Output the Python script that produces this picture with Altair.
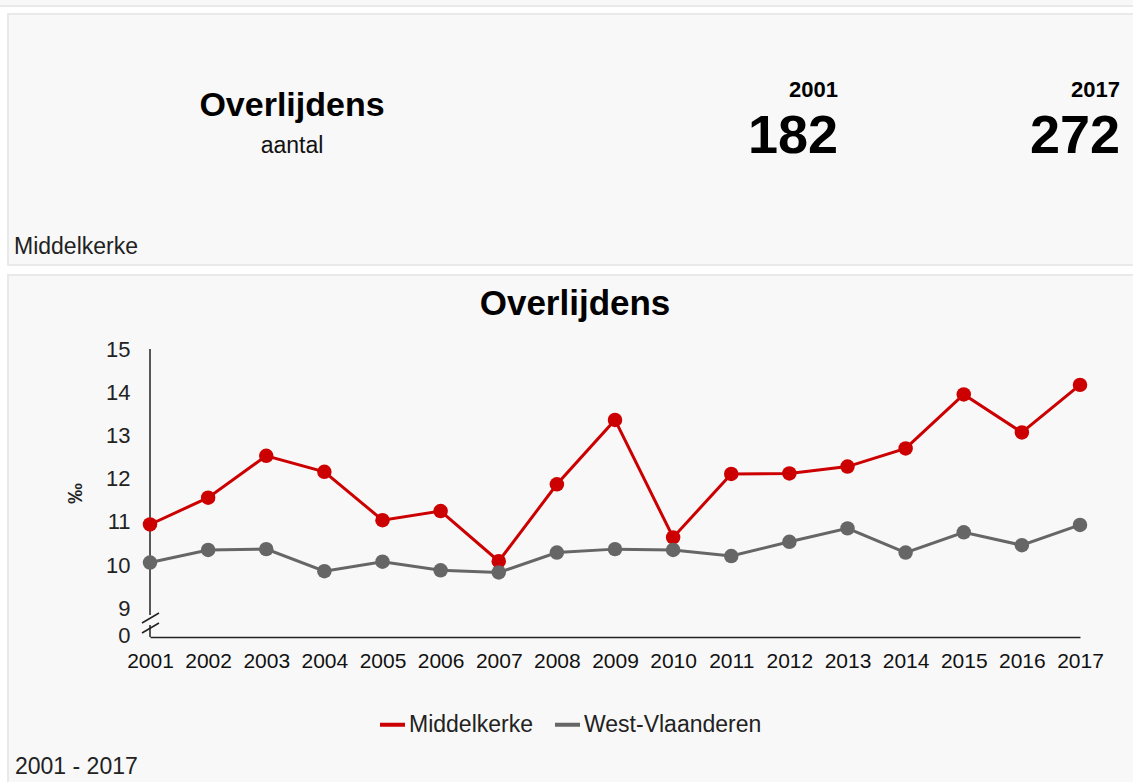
import altair as alt
import pandas as pd

# ---------------- data ----------------
years = list(range(2001, 2018))
middelkerke = [10.94, 11.56, 12.53, 12.16, 11.04, 11.25, 10.09, 11.87, 13.36,
               10.64, 12.11, 12.12, 12.28, 12.70, 13.95, 13.07, 14.17]
west_vlaanderen = [10.06, 10.35, 10.37, 9.86, 10.08, 9.88, 9.83, 10.29, 10.37,
                   10.35, 10.21, 10.54, 10.85, 10.29, 10.76, 10.46, 10.93]
series_names = ["Middelkerke", "West-Vlaanderen"]
series_colors = ["#cc0000", "#666666"]
y_tick_values = [8.38, 9, 10, 11, 12, 13, 14, 15]

kpi_title = "Overlijdens"
kpi_unit = "aantal"
kpi_years = ["2001", "2017"]
kpi_values = ["182", "272"]
region_name = "Middelkerke"
chart_title = "Overlijdens"
y_title = "‰"
period_text = "2001 - 2017"

# ---------------- layout ----------------
FONT = "Liberation Sans"
OX, OY = 150, 349          # page position of the plot origin
PW, PH = 930, 288          # plot area
PANEL_FILL = "#f8f8f8"
PANEL_STROKE = "#e9e9e9"

rows = []
for name, vals in zip(series_names, [middelkerke, west_vlaanderen]):
    for yr, v in zip(years, vals):
        rows.append({"year": yr, "value": v, "reeks": name})
df = pd.DataFrame(rows)
one = pd.DataFrame({"k": [0]})


def panel(x1, y1, x2, y2):
    return alt.Chart(one).mark_rect(fill=PANEL_FILL, stroke=PANEL_STROKE, strokeWidth=2).encode(
        x=alt.value(x1 - OX), x2=alt.value(x2 - OX),
        y=alt.value(y1 - OY), y2=alt.value(y2 - OY))


def text(t, x, y, size, weight="normal", align="left", color="#111111"):
    return alt.Chart(one).mark_text(
        text=t, font=FONT, fontSize=size, fontWeight=weight, align=align,
        baseline="middle", color=color).encode(x=alt.value(x - OX), y=alt.value(y - OY))


def seg(x1, y1, x2, y2):
    return alt.Chart(one).mark_rule(color="#222222", strokeWidth=1.5).encode(
        x=alt.value(x1 - OX), y=alt.value(y1 - OY),
        x2=alt.value(x2 - OX), y2=alt.value(y2 - OY))


panels = [
    panel(-20, -20, 1150, 6),
    panel(8, 14, 1150, 265),
    panel(8, 275, 1150, 800),
]

texts = [
    text(kpi_title, 292, 106, 34, "bold", "center", "#000000"),
    text(kpi_unit, 292, 146, 23, "normal", "center"),
    text(kpi_years[0], 838, 90, 22, "bold", "right", "#000000"),
    text(kpi_values[0], 838, 137, 54, "bold", "right", "#000000"),
    text(kpi_years[1], 1120, 90, 22, "bold", "right", "#000000"),
    text(kpi_values[1], 1120, 137, 54, "bold", "right", "#000000"),
    text(region_name, 14, 247, 23, "normal", "left", "#222222"),
    text(chart_title, 575, 304, 35, "bold", "center", "#000000"),
    text(period_text, 15, 767, 23, "normal", "left", "#222222"),
]

# y axis line with a break
axis_parts = [
    seg(150, 349, 150, 615),
    seg(150, 625, 150, 637),
    seg(142, 623, 159, 613),
    seg(142, 633, 159, 623),
]

x_enc = alt.X("year:Q",
              scale=alt.Scale(domain=[2001, 2017], nice=False, zero=False),
              axis=alt.Axis(values=years, format="d", title=None, grid=False, ticks=False,
                            domainColor="#222222", domainWidth=1.5, labelFont=FONT,
                            labelFontSize=21, labelColor="#111111", labelPadding=13,
                            labelFlush=False, labelOverlap=False, zindex=1))
y_enc = alt.Y("value:Q",
              scale=alt.Scale(domain=[8.337, 15], nice=False, zero=False),
              axis=alt.Axis(values=y_tick_values, title=y_title, grid=False, ticks=False,
                            domain=False, labelFont=FONT, labelFontSize=22,
                            labelColor="#222222", labelPadding=20, labelOverlap=False,
                            labelExpr="datum.value < 8.5 ? '0' : format(datum.value, 'd')",
                            titleFont=FONT, titleFontSize=21, titleFontWeight="bold",
                            titleColor="#222222", titleAngle=270, titleX=-75, titleY=144,
                            titleAlign="center", titleBaseline="middle", zindex=1))
color_enc = alt.Color("reeks:N",
                      scale=alt.Scale(domain=series_names, range=series_colors),
                      legend=alt.Legend(orient="none", legendX=228, legendY=361,
                                        direction="horizontal", title=None,
                                        symbolType="stroke", symbolSize=625,
                                        symbolStrokeWidth=4, labelFont=FONT,
                                        labelFontSize=23, labelColor="#222222",
                                        labelLimit=0, labelOffset=2, columnPadding=14,
                                        padding=0))

base = alt.Chart(df).encode(x=x_enc, y=y_enc, color=color_enc)
lines = base.mark_line(strokeWidth=3)
points = base.mark_circle(size=210, opacity=1)

chart = alt.layer(*panels, *texts, *axis_parts, lines, points).properties(
    width=PW, height=PH,
    autosize=alt.AutoSizeParams(type="none"),
    padding={"left": OX, "top": OY, "right": 1133 - OX - PW, "bottom": 782 - OY - PH},
    background="white",
).configure_view(strokeWidth=0)

chart.save("out.html", embed_options={"renderer": "svg", "actions": False})
